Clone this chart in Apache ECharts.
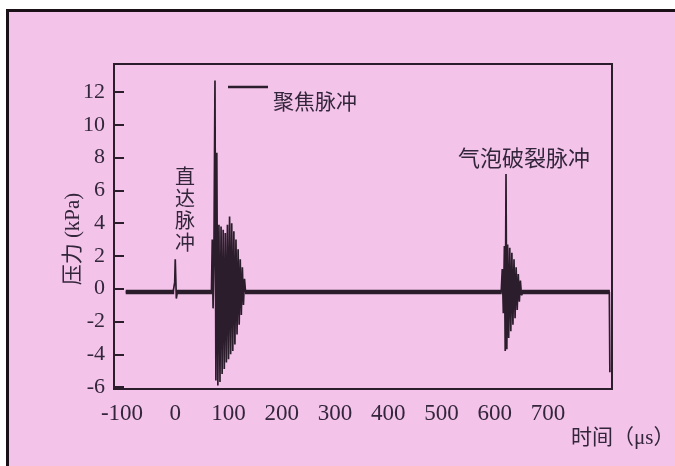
<!DOCTYPE html>
<html><head><meta charset="utf-8">
<script src="https://cdn.jsdelivr.net/npm/echarts@6/dist/echarts.min.js"></script>
<style>html,body{margin:0;padding:0;background:#fff}#c{width:675px;height:466px}</style>
</head><body><div id="c"></div>
<script>
// Waveform: time (µs) and pressure (kPa)
const waveTime = [-93, -4, -1, 0, 1, 2, 4,
  68, 69.5, 71, 72.5, 74.6, 76.3, 78, 80, 82, 84, 86, 88, 90, 92, 94, 96, 98, 100, 102, 104, 106, 108, 110, 112, 114, 116, 118, 120, 122, 124, 126, 128, 130, 132,
  612, 614, 616, 618, 619.5, 621, 622.5, 624, 626, 628, 630, 632, 634, 636, 638, 640, 642, 644, 646, 648, 650, 653,
  815, 816];
const wavePressure = [-0.2, -0.2, 0.4, 1.8, 0.6, -0.6, -0.2,
  -0.2, 3.0, -1.2, 1.5, 12.7, -5.6, 8.3, -5.9, 3.9, -5.7, 3.8, -5.2, 3.6, -4.9, 3.4, -4.5, 3.9, -4.3, 4.4, -4.0, 4.0, -3.8, 3.5, -3.4, 3.0, -2.8, 2.4, -2.2, 1.8, -1.6, 1.3, -1.0, 0.6, -0.2,
  -0.2, 1.2, -1.5, 2.6, -3.8, 7.0, -3.7, 2.7, -3.0, 2.5, -2.6, 2.2, -2.2, 1.8, -1.8, 1.3, -1.3, 0.9, -0.8, 0.5, -0.4, -0.2,
  -0.2, -5.1];
// Thick baseline segments (time start/end pairs) at baseline pressure
const baseTime = [-93, -2, null, 2, 70, null, 131, 613, null, 650, 816];
const baseLevel = -0.2;
const xTicks = [-100, 0, 100, 200, 300, 400, 500, 600, 700];
const yTicks = [-6, -4, -2, 0, 2, 4, 6, 8, 10, 12];
const labels = {
  focused: '聚焦脉冲',
  direct: '直达脉冲',
  bubble: '气泡破裂脉冲',
  yName: '压力 (kPa)',
  xName: '时间（μs）'
};

const ink = '#2b1d2b';
const textInk = '#33263a';
const serif = '"Liberation Serif", "Noto Sans CJK SC", serif';
const cjk = '"Noto Sans CJK SC", "Liberation Serif", sans-serif';

const waveData = waveTime.map((t, i) => [t, wavePressure[i]]);
const baseData = baseTime.map(t => t === null ? [null, null] : [t, baseLevel]);

const chart = echarts.init(document.getElementById('c'), null, {renderer: 'canvas'});
chart.setOption({
  backgroundColor: '#f3c3ea',
  animation: false,
  grid: {left: 114, right: 63, top: 64, bottom: 77, show: true, borderColor: ink, borderWidth: 2, backgroundColor: 'transparent'},
  xAxis: {
    type: 'value', min: -115, max: 820,
    axisLine: {show: true, onZero: false, lineStyle: {color: ink, width: 2}},
    axisTick: {show: false},
    splitLine: {show: false},
    axisLabel: {customValues: xTicks, color: textInk, fontFamily: serif, fontSize: 23, margin: 13}
  },
  yAxis: {
    type: 'value', min: -6.12, max: 13.71,
    axisLine: {show: true, onZero: false, lineStyle: {color: ink, width: 2}},
    axisTick: {show: true, inside: true, length: 10, customValues: yTicks, lineStyle: {color: ink, width: 2}},
    splitLine: {show: false},
    axisLabel: {customValues: yTicks, color: textInk, fontFamily: serif, fontSize: 22, margin: 9}
  },
  series: [
    {type: 'line', data: baseData, symbol: 'none', connectNulls: false, lineStyle: {color: ink, width: 4.5}, z: 3},
    {type: 'line', data: waveData, symbol: 'none', lineStyle: {color: ink, width: 1.7}, z: 4}
  ],
  graphic: [
    {type: 'rect', shape: {x: 0, y: 0, width: 675, height: 9}, style: {fill: '#ffffff'}, silent: true},
    {type: 'rect', shape: {x: 0, y: 0, width: 6, height: 466}, style: {fill: '#ffffff'}, silent: true},
    {type: 'line', shape: {x1: 6, y1: 10.5, x2: 675, y2: 10.5}, style: {stroke: '#1a1018', lineWidth: 3}},
    {type: 'line', shape: {x1: 7.5, y1: 9, x2: 7.5, y2: 466}, style: {stroke: '#1a1018', lineWidth: 3}},
    {type: 'line', shape: {x1: 228, y1: 87, x2: 268, y2: 87}, style: {stroke: ink, lineWidth: 2.5}},
    {type: 'text', x: 273, y: 101, style: {text: labels.focused, font: '21px ' + cjk, fill: textInk, textVerticalAlign: 'middle'}},
    {type: 'text', x: 185, y: 165, style: {text: labels.direct.split('').join('\n'), font: '20px ' + cjk, lineHeight: 22, fill: textInk, textAlign: 'center', textVerticalAlign: 'top'}},
    {type: 'text', x: 458, y: 158, style: {text: labels.bubble, font: '22px ' + cjk, fill: textInk, textVerticalAlign: 'middle'}},
    {type: 'text', x: 73, y: 239, rotation: Math.PI / 2, style: {text: labels.yName, font: '21px ' + serif, fill: textInk, textAlign: 'center', textVerticalAlign: 'middle'}},
    {type: 'text', x: 571, y: 438, style: {text: labels.xName, font: '21px ' + serif, fill: textInk, textVerticalAlign: 'middle'}}
  ]
});
</script></body></html>
